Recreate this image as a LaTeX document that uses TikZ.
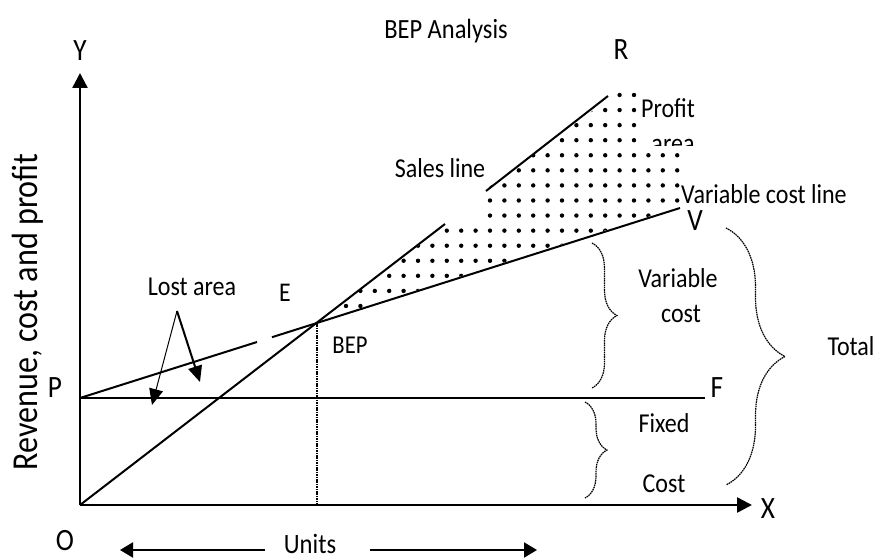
\documentclass[tikz,border=0pt]{standalone}
\usepackage{fontspec}
\setmainfont{Carlito}[FakeStretch=0.88]
\usetikzlibrary{arrows.meta,decorations.pathreplacing}

\begin{document}
\begin{tikzpicture}[x=1pt,y=-1pt,
  lbl/.style={font=\fontsize{27.3}{31}\selectfont, inner sep=0pt, anchor=base},
  big/.style={font=\fontsize{31}{36}\selectfont, inner sep=0pt, anchor=base},
  axisline/.style={line width=2.5pt, -{Triangle[length=15pt,width=15pt]}},
  costline/.style={line width=2pt},
  bracedeco/.style={decorate, decoration={brace, amplitude=#1}, line width=1.2pt, dash pattern=on 1.6pt off 0.7pt},
  pointer/.style={-{Triangle[length=16pt,width=14pt]}},
  unitarrow/.style={line width=2pt, -{Triangle[length=13pt,width=15pt]}}
]
\useasboundingbox (0,0) rectangle (878,559);

% key points of the chart
\coordinate (O) at (80,505);
\coordinate (Ytop) at (80,73);
\coordinate (Xend) at (752,505);
\coordinate (P) at (80,398);
\coordinate (F) at (705,398);
\coordinate (E) at (317,323);
\coordinate (V) at (680,208);
\coordinate (Egap1) at (257,342);
\coordinate (Egap2) at (272,337.2);
\coordinate (S1) at (445,224);
\coordinate (S2) at (486,191);
\coordinate (R) at (608,96);
\coordinate (Ebase) at (317,505);

% profit area: dot grid clipped to the region between the two lines
\begin{scope}
  \clip (318,321.5) -- (447,224) -- (485,224) -- (485,190) -- (621,90)
        -- (640,90) -- (640,148) -- (680,148) -- (680,206.6) -- cycle;
  \foreach \r in {0,...,14}
    \foreach \c in {0,...,24}
      \fill ({346+14.4*\c},{95+15.07*\r}) circle[radius=2.2pt];
\end{scope}

% axes
\draw[axisline] (O) -- (Ytop);
\draw[axisline] (O) -- (Xend);

% fixed cost line
\draw[line width=2.5pt] (P) -- (F);

% variable cost line (with a short break before E)
\draw[costline] (P) -- (Egap1);
\draw[costline] (Egap2) -- (V);

% sales line (with a break)
\draw[costline] (O) -- (S1);
\draw[costline] (S2) -- (R);

% break-even drop line
\draw[line width=1.6pt, dash pattern=on 1.5pt off 0.9pt] (E) -- (Ebase);

% braces
\coordinate (vcA) at (592,243); \coordinate (vcB) at (592,388);
\coordinate (fcA) at (585,402); \coordinate (fcB) at (585,498);
\coordinate (tcA) at (726,228); \coordinate (tcB) at (726,485);
\draw[bracedeco=25pt] (vcA) -- (vcB);
\draw[bracedeco=22pt] (fcA) -- (fcB);
\draw[bracedeco=59pt] (tcA) -- (tcB);

% loss area pointers
\coordinate (la) at (177,311);
\coordinate (la1) at (152,405);
\coordinate (la2) at (200,382);
\draw[pointer, line width=1pt] (la) -- (la1);
\draw[pointer, line width=2pt] (la) -- (la2);

% labels
\node[lbl, font=\fontsize{27.8}{31}\selectfont] (title) at (446,39) {BEP Analysis};
\node[big] (ylab) at (80,61) {Y};
\node[big] (rlab) at (621,60) {R};
\node[big] (vlab) at (695,230) {V};
\node[big] (plab) at (55,397) {P};
\node[big] (flab) at (717,397) {F};
\node[big] (xlab) at (768,518) {X};
\node[big] (olab) at (65,550) {O};
\node[lbl, font=\fontsize{27}{31}\selectfont] (elab) at (285,301) {E};

\node[lbl] (profit) at (668,118) {Profit};
\begin{scope}
  \clip (640,120) rectangle (710,146);
  \node[lbl] (area) at (673,153) {area};
\end{scope}
\node[lbl] (sales) at (440,177) {Sales line};
\node[lbl, anchor=base west] (vcl) at (681,203) {Variable cost line};
\node[lbl] (var1) at (678,287) {Variable};
\node[lbl] (var2) at (681,322) {cost};
\node[lbl] (lost) at (192,295) {Lost area};
\node[lbl, font=\fontsize{25.7}{30}\selectfont] (bep) at (350,353) {BEP};
\node[lbl] (total) at (851,355) {Total};
\node[lbl] (fixed1) at (664,432) {Fixed};
\node[lbl] (fixed2) at (664,492) {Cost};
\node[lbl, font=\fontsize{36.5}{41}\selectfont, rotate=90] (ytitle) at (37,312) {Revenue, cost and profit};

% units axis caption with arrows
\node[lbl, font=\fontsize{28}{32}\selectfont] (units) at (310,553) {Units};
\coordinate (uLs) at (265,550); \coordinate (uL) at (120,550);
\coordinate (uRs) at (370,550); \coordinate (uR) at (537,550);
\draw[unitarrow] (uLs) -- (uL);
\draw[unitarrow] (uRs) -- (uR);

\end{tikzpicture}
\end{document}
